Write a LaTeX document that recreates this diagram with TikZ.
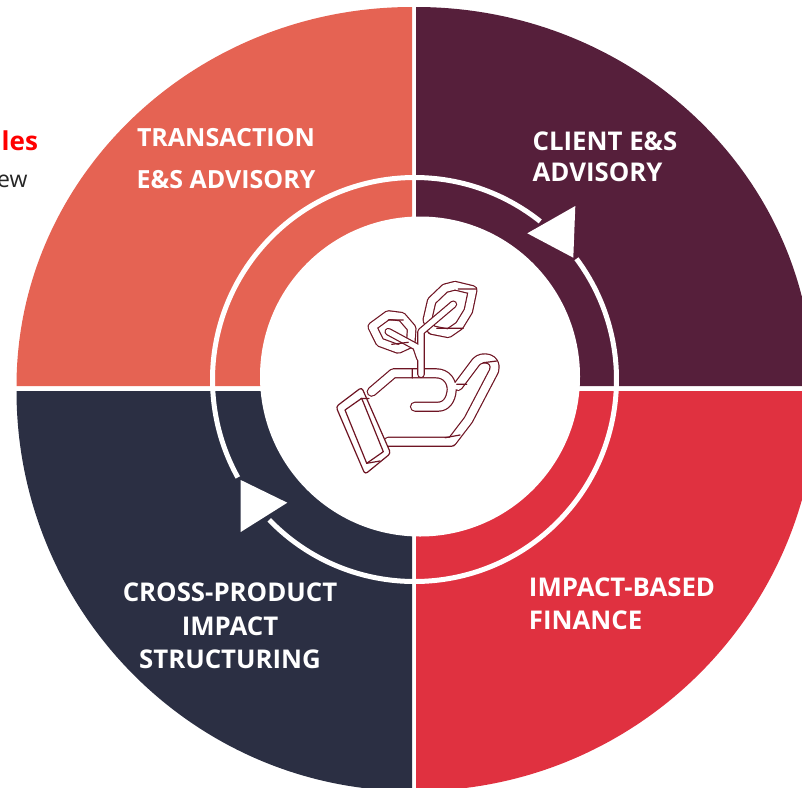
\documentclass[tikz,border=0pt]{standalone}
\usepackage{fontspec}
\setmainfont{Open Sans}
\definecolor{coral}{HTML}{E56353}
\definecolor{plum}{HTML}{561F3B}
\definecolor{crimson}{HTML}{E03140}
\definecolor{navy}{HTML}{2B2F43}
\definecolor{iconred}{HTML}{6E1423}
\tikzset{
  seglabel/.style={text=white,font=\bfseries\fontsize{25.8}{33.5}\selectfont,align=center},
  bandout/.style={draw=iconred,line cap=round,line join=round},
  bandin/.style={draw=white,line cap=round,line join=round},
  iconline/.style={draw=iconred,line width=1.2pt,line cap=round,line join=round},
  ringline/.style={draw=white,line width=5pt},
  turn/.style={fill=white,draw=none}
}
\newcommand{\iconband}[2]{\draw[bandout,line width=#1+1.2pt] #2; \draw[bandin,line width=#1-1.2pt] #2;}
\begin{document}
\begin{tikzpicture}[x=1pt,y=-1pt]
\useasboundingbox (0,0) rectangle (802,787);
% Quadrants
\fill[coral] (412,386) -- (16.5,386) .. controls (16.5,176.7) and (194.5,7) .. (412,7) -- cycle;
\fill[plum] (416,386) -- (813,386) .. controls (813,176.7) and (634.4,7) .. (416,7) -- cycle;
\fill[navy] (412,391) -- (16.5,391) .. controls (16.5,612) and (194.5,791) .. (412,791) -- cycle;
\fill[crimson] (416,391) -- (817,391) .. controls (817,612) and (636.6,791) .. (416,791) -- cycle;
% Ring and centre
\coordinate (ringc) at (414.5,379.5);
\draw[ringline] (ringc) ++(-51.5:202) arc[start angle=-51.5,end angle=-209,radius=202];
\draw[ringline] (ringc) ++(-224:202) arc[start angle=-224,end angle=-396.7,radius=202];
\fill[white] (420,376.5) circle[radius=160];
% Arrows
\fill[turn] (575.3,206) -- (527.3,233.3) -- (573.3,257.7) -- cycle;
\fill[turn] (240.7,480) -- (287.3,502.7) -- (240.7,532) -- cycle;
% Labels
\node[seglabel,font=\bfseries\fontsize{25}{33}\selectfont] (transaction) at (226,159) {TRANSACTION\\[9pt]E\&S ADVISORY};
\node[seglabel,align=left] (client) at (605,156.5) {CLIENT E\&S\\[-2.5pt]ADVISORY};
\node[seglabel] (product) at (230,626) {CROSS-PRODUCT\\IMPACT\\STRUCTURING};
\node[seglabel,align=left] (finance) at (622,604) {IMPACT-BASED\\FINANCE};
\node[text=red,font=\bfseries\fontsize{26}{30}\selectfont,anchor=east] (les) at (41.5,141) {les};
\node[text=black!85,font=\fontsize{23}{28}\selectfont,anchor=east] (ew) at (31,181) {ew};
% Hand and sprout
\iconband{9pt}{(371.7,391.7) -- (393.3,373.3) -- (436,373.3) .. controls (447,373.3) and (452,382) .. (451.7,390) .. controls (451,400) and (446,406.7) .. (438,406.7) -- (415,406.7)
  (458,386) -- (476,362) .. controls (482,355) and (498,358) .. (494,371) -- (468.3,420) -- (451.7,441.7) -- (388.3,441.7)}
\draw[iconline] (456.7,384.3) -- (466.7,384.3) (445,437.7) -- (460,435) (483.3,362.7) -- (496.7,361) (412.3,369) -- (412.3,378);
\draw[iconline,fill=white,rounded corners=3pt] (336,406.7) -- (361.7,387.3) -- (390.7,453.3) -- (365,474.3) -- cycle;
\draw[iconline] (345,410) -- (361.7,398.3) -- (383.3,451.7) -- (366.7,463.3) -- cycle;
\draw[iconline] (361,398.5) -- (369,398.5) (366.7,463.3) -- (380,461);
\iconband{8.5pt}{(372.3,326.7) -- (388.3,315) -- (401.7,316.7) -- (411.7,328.3) -- (410.7,343.3) -- (398.3,349) -- (380,342.3) -- cycle
  (427.3,320) -- (431.7,301) -- (445,288.3) -- (455,285.7) -- (472.7,290) -- (468.3,311) -- (459.3,325.7) -- (448.3,333.3) -- (431.7,330) -- cycle}
\iconband{6.5pt}{(421,374.3) -- (421,331.7) -- (453.3,304.3) (420,358.3) -- (416,346.7) -- (388.3,331.7)}
\draw[iconline] (458.3,289) -- (476.7,289) (436.7,328.3) -- (463.3,328.3) (388.3,320) -- (403.3,320) (391.7,344.3) -- (408.3,342.3);
\end{tikzpicture}
\end{document}
